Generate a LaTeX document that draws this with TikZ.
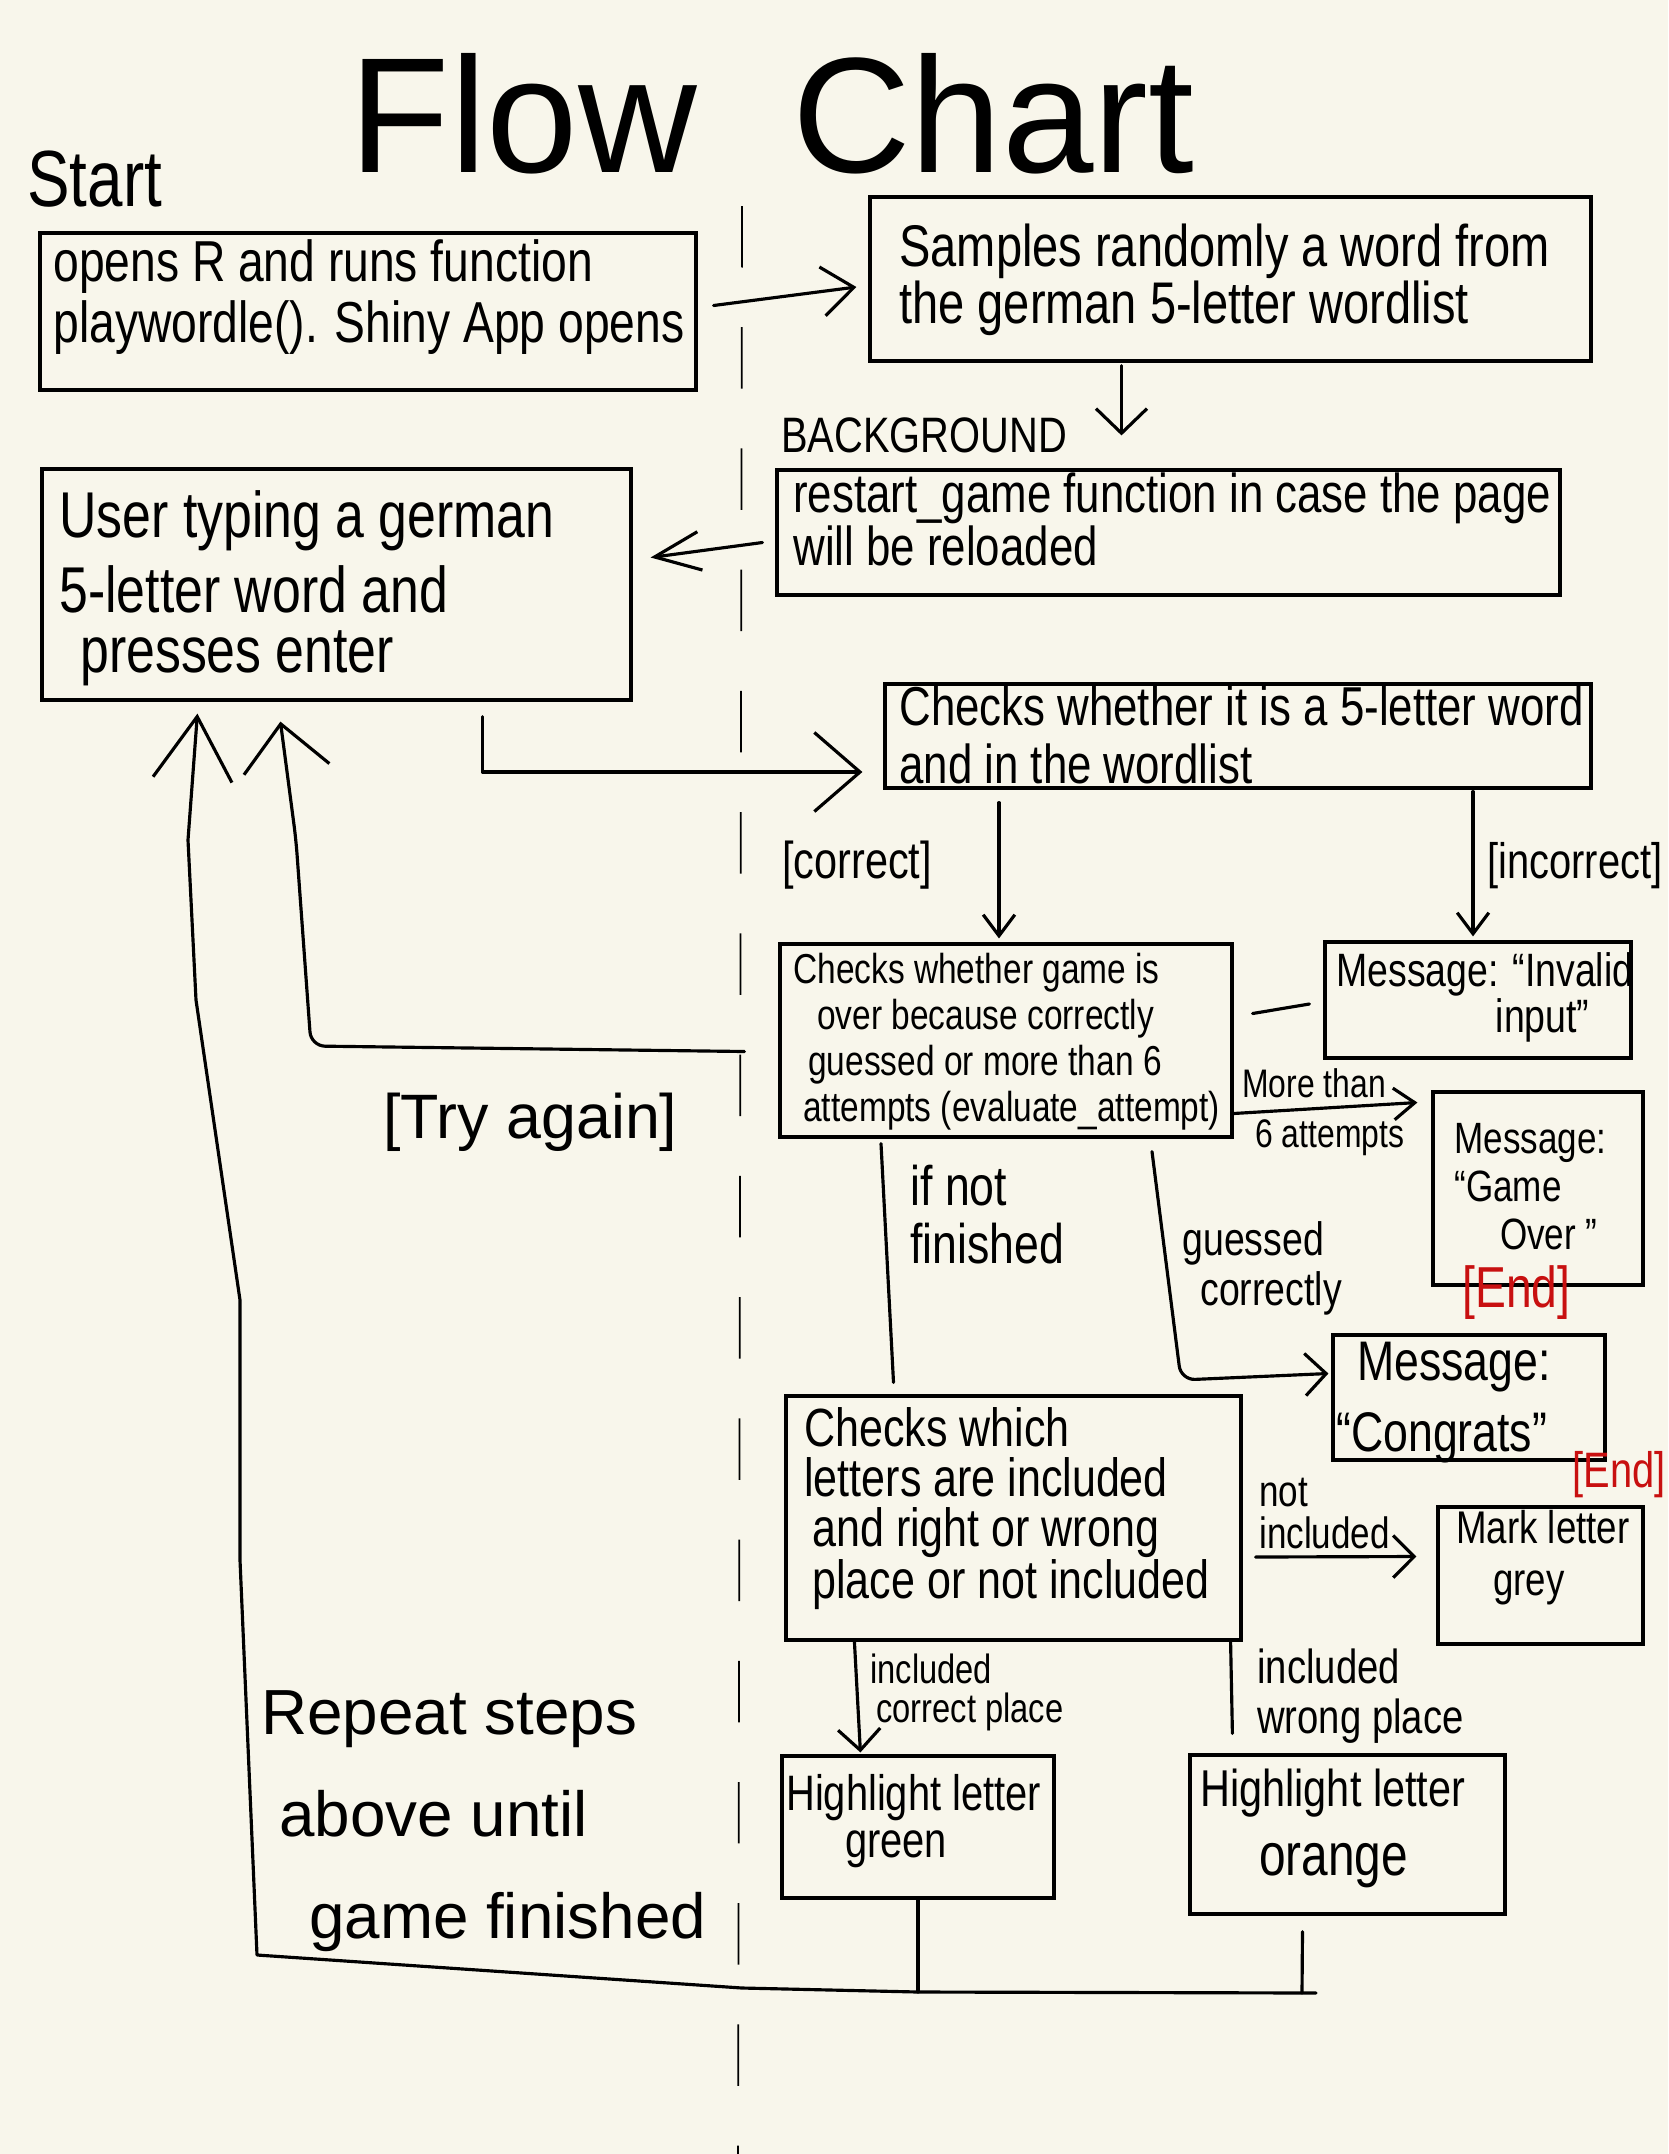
\documentclass[tikz,border=0pt]{standalone}
\usepackage{fontspec}
\usetikzlibrary{arrows.meta,calc,fit}
\newfontfamily\hand{Liberation Sans}[FakeStretch=0.8]
\newfontfamily\handw{Liberation Sans}
\newdimen\pxu \pxu=0.56693pt
\newcommand\fsz[2]{\fontsize{\dimexpr#1\pxu\relax}{\dimexpr#2\pxu\relax}\selectfont}
\definecolor{paper}{RGB}{248,246,235}
\definecolor{endred}{RGB}{200,16,16}
\begin{document}
\begin{tikzpicture}[x=0.02cm,y=-0.02cm,
  box/.style={draw, line width=1.8pt, inner sep=0pt},
  txt/.style={inner sep=0pt, anchor=base west, align=left},
  ln/.style={line width=1.8pt, line cap=round, line join=round},
  tipA/.style={-{Straight Barb[length=18pt,width=28pt]}},
  tipB/.style={-{Straight Barb[length=14pt,width=29pt]}},
  tipC/.style={-{Straight Barb[length=26pt,width=22pt]}},
  tipD/.style={-{Straight Barb[length=26pt,width=45pt]}},
  tipS/.style={-{Straight Barb[length=12pt,width=18pt]}},
  tipM/.style={-{Straight Barb[length=12pt,width=24pt]}},
  tipL/.style={-{Straight Barb[length=36pt,width=45pt]}},
  tipT/.style={-{Straight Barb[length=26pt,width=49pt]}},
  divider/.style={line width=1pt, dash pattern=on 35pt off 34pt}
]
\fill[paper] (0,0) rectangle (1668,2154);
\useasboundingbox (0,0) rectangle (1668,2154);

% divider
\coordinate (divT) at (742,206);
\coordinate (divB) at (738,2154);
\draw[divider] (divT) -- (divB);

% title
\node[inner sep=0pt, anchor=base, font=\handw\fsz{165}{170}] (title) at (772,172) {Flow\hspace{50\pxu} Chart};
\node[txt, font=\hand\fsz{80}{80}] (start) at (27,206) {Start};

% boxes
\node[box, fit={(40,233) (696,390)}] (b1) {};
\node[box, fit={(870,197) (1591,361)}] (b2) {};
\node[box, fit={(777,470) (1560,595)}] (b3) {};
\node[box, fit={(42,469) (631,700)}] (b4) {};
\node[box, fit={(885,684) (1591,788)}] (b5) {};
\node[box, fit={(780,944) (1232,1137)}] (b6) {};
\node[box, fit={(1325,942) (1631,1058)}] (b7) {};
\node[box, fit={(1433,1092) (1643,1285)}] (b8) {};
\node[box, fit={(786,1396) (1241,1640)}] (b9) {};
\node[box, fit={(1333,1335) (1605,1460)}] (b10) {};
\node[box, fit={(1438,1507) (1643,1644)}] (b11) {};
\node[box, fit={(782,1756) (1054,1898)}] (b12) {};
\node[box, fit={(1190,1755) (1505,1914)}] (b13) {};

% box texts (anchored at the baseline of their last line)
\node[txt, font=\hand\fsz{58}{61}] (t1) at (53,342) {opens R and runs function\\playwordle(). Shiny App opens};
\node[txt, font=\hand\fsz{59}{53}] (t2) at (899,323) {Samples randomly a word from\\the german 5-letter wordlist};
\node[txt, font=\hand\fsz{50}{50}] (bg) at (781,452) {BACKGROUND};
\node[txt, font=\hand\fsz{55}{53}] (t3) at (793,565) {restart\_game function in case the page\\will be reloaded};
\node[txt, font=\hand\fsz{65}{75}] (t4) at (59,672) {User typing a german\\5-letter word and\\[-15\pxu]\hspace*{21\pxu}presses enter};
\node[txt, font=\hand\fsz{55}{58}] (t5) at (899,783) {Checks whether it is a 5-letter word\\and in the wordlist};
\node[txt, font=\hand\fsz{52}{52}] (lc) at (782,878) {[correct]};
\node[txt, font=\hand\fsz{50}{50}] (li) at (1487,878) {[incorrect]};
\node[txt, font=\hand\fsz{42}{46}] (t6) at (793,1121) {Checks whether game is\\\hspace*{24\pxu}over because correctly\\\hspace*{15\pxu}guessed or more than 6\\\hspace*{10\pxu}attempts (evaluate\_attempt)};
\node[txt, font=\hand\fsz{47}{40}] (t7) at (1336,1032) {Message: “Invalid\\\hspace*{160\pxu}input”};
\node[txt, font=\hand\fsz{44}{48}] (t8) at (1454,1249) {Message:\\“Game\\\hspace*{46\pxu}Over ”};
\node[txt, font=\hand\fsz{58}{58}, text=endred] (end1) at (1462,1307) {[End]};
\node[txt, font=\hand\fsz{56}{71}] (t10) at (1336,1451) {\hspace*{21\pxu}Message:\\“Congrats”};
\node[txt, font=\hand\fsz{50}{50}, text=endred] (end2) at (1572,1487) {[End]};
\node[txt, font=\hand\fsz{54}{50}] (t9) at (804,1598) {Checks which\\letters are included\\\hspace*{8\pxu}and right or wrong\\\hspace*{8\pxu}place or not included};
\node[txt, font=\hand\fsz{46}{52}] (t11) at (1456,1595) {Mark letter\\\hspace*{37\pxu}grey};
\node[txt, font=\hand\fsz{50}{47}] (t12) at (786,1857) {Highlight letter\\\hspace*{59\pxu}green};
\node[txt, font=\hand\fsz{52}{69}] (t13) at (1200,1875) {Highlight letter\\\hspace*{59\pxu}{\fsz{60}{60}orange}};

% connector labels
\node[txt, font=\hand\fsz{40}{40}] (mt) at (1242,1097) {More than};
\node[txt, font=\hand\fsz{40}{40}] (sa) at (1255,1147) {6 attempts};
\node[txt, font=\hand\fsz{56}{58}] (inf) at (910,1263) {if not\\finished};
\node[txt, font=\hand\fsz{47}{50}] (gcl) at (1182,1305) {guessed\\\hspace*{18\pxu}correctly};
\node[txt, font=\hand\fsz{44}{42}] (ni) at (1259,1548) {not\\included};
\node[txt, font=\hand\fsz{41}{39}] (icp) at (870,1722) {included\\\hspace*{6\pxu}correct place};
\node[txt, font=\hand\fsz{48}{50}] (iwp) at (1257,1733) {included\\wrong place};
\node[txt, font=\handw\fsz{63}{63}] (try) at (383,1138) {[Try again]};
\node[txt, font=\handw\fsz{64}{102}] (rep) at (261,1938) {Repeat steps\\\hspace*{18\pxu}above until\\\hspace*{48\pxu}game finished};

% connectors
\draw[ln, tipA] ($(b1.east)+(16,-6)$) -- ($(b2.west)+(-12,8)$);
\draw[ln, tipB] ($(b2.south)+(-109,3)$) -- ($(b3.north)+(-47,-33)$);
\draw[ln, tipC] ($(b3.west)+(-13,10)$) -- ($(b4.east)+(18,-27)$);
\draw[ln, tipD] ($(b4.south west)+(442,15)$) |- ($(b5.west)+(-21,36)$);
\draw[ln, tipS] ($(b5.south)+(-239,13)$) -- ($(b6.north)+(-7,-4)$);
\draw[ln, tipS] ($(b5.south)+(235,2)$) -- ($(b7.north)+(-5,-4)$);
\draw[ln] ($(b6.east)+(19,-27)$) -- ($(b7.west)+(-14,4)$);
\draw[ln, tipS] ($(b6.east)+(0,73)$) -- ($(b8.west)+(-14,-86)$);
\draw[ln] ($(b6.south)+(-125,5)$) -- ($(b9.north)+(-120,-12)$);
\coordinate (gcorner) at (1181,1380);
\draw[ln, tipM, rounded corners=8pt] ($(b6.south)+(146,13)$) -- (gcorner) -- ($(b10.west)+(-3,-24)$);
\draw[ln, tipM] ($(b9.east)+(13,39)$) -- ($(b11.west)+(-20,-19)$);
\draw[ln, tipM] ($(b9.south west)+(70,0)$) -- ($(b12.north west)+(80,-2)$);
\draw[ln] ($(b9.south east)+(-12,0)$) -- ($(b13.north west)+(44,-20)$);

% repeat loop
\coordinate (lpM) at (918,1992);
\coordinate (lpR) at (1316,1993);
\coordinate (lpR2) at (1302,1993);
\coordinate (lpD) at (742,1988);
\coordinate (lpL) at (257,1955);
\coordinate (lpA) at (240,1560);
\coordinate (lpB) at (240,1300);
\coordinate (lpC) at (196,1000);
\coordinate (lpE) at (188,840);
\draw[ln] (b12.south) -- (lpM);
\draw[ln] ($(b13.south)+(-45,16)$) -- (lpR2);
\draw[ln, tipL] (lpR) -- (lpM) -- (lpD) -- (lpL) -- (lpA) -- (lpB) -- (lpC) -- (lpE) -- ($(b4.south west)+(157,12)$);

% try again loop
\coordinate (ta) at (311,1046);
\coordinate (tb) at (296,840);
\draw[ln, tipT, rounded corners=8pt] ($(b6.west)+(-34,11)$) -- (ta) -- (tb) -- ($(b4.south west)+(240,20)$);
\end{tikzpicture}
\end{document}
